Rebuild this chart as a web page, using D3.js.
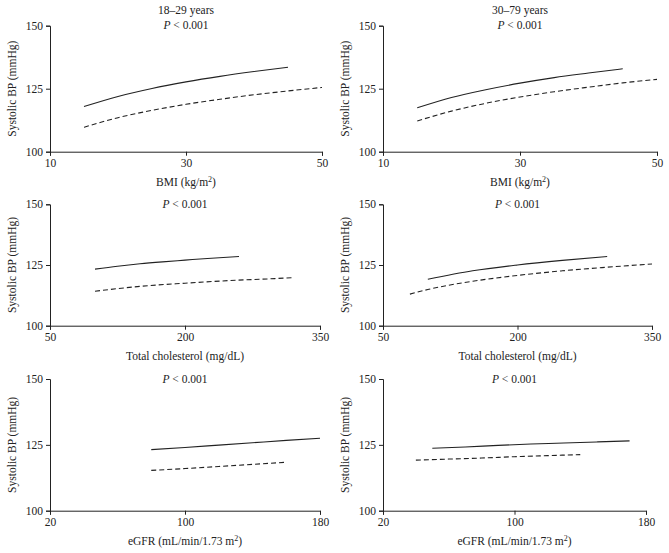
<!DOCTYPE html>
<html>
<head>
<meta charset="utf-8">
<script src="https://cdn.jsdelivr.net/npm/d3@7"></script>
<style>
  html, body { margin: 0; padding: 0; background: #fff; }
  svg { display: block; }
  text { font-family: "Liberation Serif", "DejaVu Serif", serif; fill: #222; }
</style>
</head>
<body>
<svg id="chart" width="669" height="553"></svg>
<script>
// ---------- data ----------
const ageGroups = ["18–29 years", "30–79 years"];
const pValueText = "< 0.001";
const yTicks = [100, 125, 150];
const yLabel = "Systolic BP (mmHg)";

const bmiTicks = [10, 30, 50];
const cholTicks = [50, 200, 350];
const egfrTicks = [20, 100, 180];

// BMI, 18–29 years
const bmiYoungSolid = [[15, 117.9], [20, 121.9], [25, 125.1], [30, 127.7], [35, 129.9], [40, 131.8], [45, 133.5]];
const bmiYoungDashed = [[15, 109.7], [20, 113.5], [25, 116.4], [30, 118.8], [35, 120.8], [40, 122.6], [45, 124.1], [50, 125.5]];
// BMI, 30–79 years
const bmiOldSolid = [[15, 117.4], [20, 121.5], [25, 124.6], [30, 127.2], [35, 129.4], [40, 131.2], [45, 132.9]];
const bmiOldDashed = [[15, 112.2], [20, 116.1], [25, 119.2], [30, 121.7], [35, 123.8], [40, 125.6], [45, 127.3], [50, 128.7]];
// Total cholesterol, 18–29 years
const cholYoungSolid = [[100, 123.3], [125, 124.5], [150, 125.5], [175, 126.3], [200, 127.0], [225, 127.7], [260, 128.5]];
const cholYoungDashed = [[100, 114.2], [150, 116.2], [200, 117.5], [250, 118.6], [300, 119.4], [320, 119.8]];
// Total cholesterol, 30–79 years
const cholOldSolid = [[100, 119.1], [150, 122.6], [200, 125.0], [250, 126.9], [300, 128.5]];
const cholOldDashed = [[80, 113.0], [100, 114.9], [150, 118.3], [200, 120.7], [250, 122.6], [300, 124.1], [350, 125.4]];
// eGFR, 18–29 years
const egfrYoungSolid = [[80, 123.2], [100, 124.0], [120, 124.9], [140, 125.8], [160, 126.7], [180, 127.5]];
const egfrYoungDashed = [[80, 115.3], [100, 116.0], [120, 116.8], [140, 117.6], [160, 118.4]];
// eGFR, 30–79 years
const egfrOldSolid = [[50, 123.7], [70, 124.2], [90, 124.8], [110, 125.3], [130, 125.7], [150, 126.1], [170, 126.5]];
const egfrOldDashed = [[40, 119.2], [60, 119.6], [80, 120.0], [100, 120.5], [120, 120.9], [140, 121.3]];

// ---------- layout ----------
const svg = d3.select("#chart");
const rows = [
  { top: 25.7, bottom: 151.7, ticks: bmiTicks, label: ["BMI (kg/m", "2", ")"],
    series: [[bmiYoungSolid, bmiYoungDashed], [bmiOldSolid, bmiOldDashed]], x1: [322, 657], title: true },
  { top: 204.3, bottom: 325.7, ticks: cholTicks, label: ["Total cholesterol (mg/dL)", "", ""],
    series: [[cholYoungSolid, cholYoungDashed], [cholOldSolid, cholOldDashed]], x1: [320, 652], title: false },
  { top: 379, bottom: 510.7, ticks: egfrTicks, label: ["eGFR (mL/min/1.73 m", "2", ")"],
    series: [[egfrYoungSolid, egfrYoungDashed], [egfrOldSolid, egfrOldDashed]], x1: [320, 646], title: false }
];
const colX0 = [50, 383];
const stroke = "#222";

rows.forEach((row, ri) => {
  [0, 1].forEach(ci => {
    const x0 = colX0[ci], x1 = row.x1[ci];
    const x = d3.scaleLinear().domain([row.ticks[0], row.ticks[2]]).range([x0, x1]);
    const y = d3.scaleLinear().domain([100, 150]).range([row.bottom, row.top]);
    const g = svg.append("g");

    // axes
    const xa = g.append("g").attr("transform", `translate(0,${row.bottom})`)
      .call(d3.axisBottom(x).tickValues(row.ticks).tickSize(4).tickPadding(3).tickFormat(d3.format("d")));
    const ya = g.append("g").attr("transform", `translate(${x0},0)`)
      .call(d3.axisLeft(y).tickValues(yTicks).tickSize(4).tickPadding(3).tickFormat(d3.format("d")));
    [xa, ya].forEach(a => {
      a.select(".domain").attr("stroke", stroke).attr("stroke-width", 1);
      a.selectAll(".tick line").attr("stroke", stroke);
      a.selectAll(".tick text").attr("font-size", 11.5).attr("fill", "#222")
        .style("font-family", "'Liberation Serif', serif");
    });

    // lines
    const line = d3.line().x(d => x(d[0])).y(d => y(d[1])).curve(d3.curveMonotoneX);
    const [solid, dashed] = row.series[ci];
    g.append("path").datum(solid).attr("d", line).attr("fill", "none")
      .attr("stroke", stroke).attr("stroke-width", 1.1);
    g.append("path").datum(dashed).attr("d", line).attr("fill", "none")
      .attr("stroke", stroke).attr("stroke-width", 1.1).attr("stroke-dasharray", "5,3");

    const cx = (x0 + x1) / 2;
    // titles
    if (row.title) {
      g.append("text").attr("x", cx).attr("y", row.top - 11.5).attr("text-anchor", "middle")
        .attr("font-size", 11.5).text(ageGroups[ci]);
    }
    const pt = g.append("text").attr("x", cx).attr("y", row.top + 3.5).attr("text-anchor", "middle")
      .attr("font-size", 11.5);
    pt.append("tspan").attr("font-style", "italic").text("P");
    pt.append("tspan").text(" " + pValueText);

    // x label
    const xl = g.append("text").attr("x", cx).attr("y", row.bottom + 34).attr("text-anchor", "middle")
      .attr("font-size", 11.5);
    xl.append("tspan").text(row.label[0]);
    if (row.label[1]) {
      xl.append("tspan").attr("dy", -4).attr("font-size", 8).text(row.label[1]);
      xl.append("tspan").attr("dy", 4).text(row.label[2]);
    }

    // y label
    g.append("text")
      .attr("transform", `translate(${x0 - 34},${(row.top + row.bottom) / 2}) rotate(-90)`)
      .attr("text-anchor", "middle").attr("font-size", 11.5).text(yLabel);
  });
});
</script>
</body>
</html>
